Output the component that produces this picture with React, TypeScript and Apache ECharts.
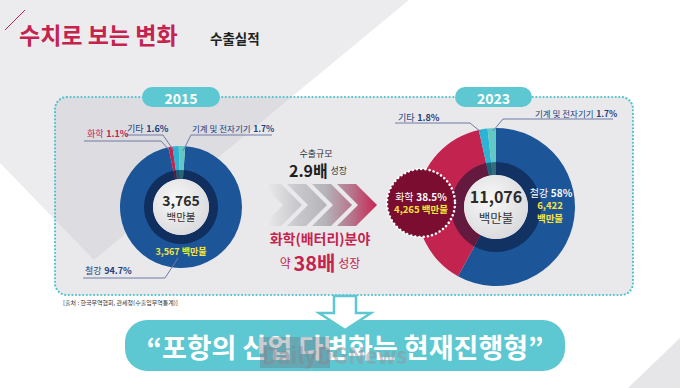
import React, { useEffect, useRef } from 'react';
import * as echarts from 'echarts';

const FONT = '"Noto Sans CJK KR", "Noto Sans", sans-serif';

// ---- data ----
const years = ['2015', '2023'];
const categories = ['철강', '화학', '기타', '기계 및 전자기기'];
const share2015 = [94.7, 1.1, 1.6, 1.7];
const share2023 = [58, 38.5, 1.8, 1.7];
const totals = ['3,765', '11,076'];
const steel2015Amount = '3,567';
const chem2023Amount = '4,265';
const steel2023Amount = '6,422';
const unit = '백만불';
const growthTotal = '2.9배';
const growthChem = '38배';
const sliceColors = ['#1d5599', '#c3234f', '#2bb4d3', '#62c8c6'];

const CRIMSON = '#c4234e';
const NAVY = '#22407c';
const YELLOW = '#f6e53a';
const CYAN = '#5ec8d2';
const LEADER = '#6c7aa6';

const pct = (v: number) => `${v}%`;

function piePart(center: number[], radius: number[], values: number[], startAngle: number) {
  return {
    type: 'pie',
    center,
    radius,
    startAngle,
    clockwise: true,
    silent: true,
    z: 2,
    label: { show: false },
    labelLine: { show: false },
    data: values.map((v, i) => ({ name: categories[i], value: v, itemStyle: { color: sliceColors[i] } })),
  };
}

function ring(center: number[], radius: number[], color: any, z: number) {
  return {
    type: 'pie',
    center,
    radius,
    silent: true,
    z,
    label: { show: false },
    labelLine: { show: false },
    data: [{ value: 1, itemStyle: { color } }],
  };
}

function txt(x: number, y: number, text: string, font: string, fill: string, align = 'left', extra: any = {}) {
  return {
    type: 'text',
    x,
    y,
    z: 30,
    silent: true,
    style: { text, font: `${font} ${FONT}`, fill, textAlign: align, textVerticalAlign: 'middle', ...extra },
  };
}

function rtxt(x: number, y: number, text: string, rich: any, align = 'left') {
  return {
    type: 'text',
    x,
    y,
    z: 30,
    silent: true,
    style: { text, rich, textAlign: align, textVerticalAlign: 'middle', fontFamily: FONT },
  };
}

const rs = (size: number, weight: string, fill: string) => ({ fontSize: size, fontWeight: weight, fill, fontFamily: FONT });

function leader(points: number[][]) {
  return { type: 'polyline', z: 25, silent: true, shape: { points }, style: { stroke: LEADER, lineWidth: 1, fill: null } };
}

function chevron(tip: number, mid: number, d: number, t: number, fill: any) {
  return {
    type: 'polygon',
    z: 5,
    silent: true,
    shape: {
      points: [
        [tip, mid],
        [tip - d, mid - d],
        [tip - d - t, mid - d],
        [tip - t, mid],
        [tip - d - t, mid + d],
        [tip - d, mid + d],
      ],
    },
    style: { fill },
  };
}

export default function App() {
  const ref = useRef<HTMLDivElement>(null);
  useEffect(() => {
    if (!ref.current) return;
    const chart = echarts.init(ref.current, undefined, { renderer: 'svg' });
    const c1 = [181, 207];
    const c2 = [496, 207];
    const innerFill = new echarts.graphic.RadialGradient(0.4, 0.38, 0.75, [
      { offset: 0, color: '#f8f8f8' },
      { offset: 1, color: '#d6d6da' },
    ]);
    const chevFill = new echarts.graphic.LinearGradient(262, 0, 378, 0, [
      { offset: 0, color: '#efeff1' },
      { offset: 0.3, color: '#c9c9cd' },
      { offset: 0.55, color: '#b5b3b8' },
      { offset: 0.78, color: '#b7738a' },
      { offset: 1, color: '#c8224f' },
    ], true);

    const elements: any[] = [
      // background shapes
      { type: 'polygon', z: -20, silent: true, shape: { points: [[0, 0], [409, 0], [94, 260], [0, 163]] }, style: { fill: '#ececee' } },
      { type: 'polygon', z: -20, silent: true, shape: { points: [[628, 388], [680, 338], [680, 388]] }, style: { fill: '#e6e6e8' } },
      // panel
      {
        type: 'rect', z: -10, silent: true,
        shape: { x: 55, y: 97, width: 578, height: 198, r: 12 },
        style: { fill: 'rgba(196,196,204,0.38)', stroke: '#4cc3cf', lineWidth: 2.2, lineDash: [0.01, 3.6], lineCap: 'round' },
      },
      // title
      { type: 'line', z: 10, silent: true, shape: { x1: 5, y1: 30, x2: 25, y2: 10 }, style: { stroke: CRIMSON, lineWidth: 1 } },
      txt(19, 34, '수치로 보는 변화', 'bold 23px', CRIMSON),
      txt(210, 38, '수출실적', 'bold 13.5px', '#222'),
      // year pills
      { type: 'rect', z: 12, silent: true, shape: { x: 142, y: 87, width: 78, height: 20, r: 10 }, style: { fill: CYAN } },
      txt(181, 97.5, years[0], 'bold 14px', '#fff', 'center'),
      { type: 'rect', z: 12, silent: true, shape: { x: 455, y: 87, width: 77, height: 20, r: 10 }, style: { fill: CYAN } },
      txt(493.5, 97.5, years[1], 'bold 14px', '#fff', 'center'),

      // 2015 labels
      rtxt(87, 133, `{a|${categories[1]}} {b|${pct(share2015[1])}}`, { a: rs(9, 'normal', CRIMSON), b: rs(9, 'bold', CRIMSON) }),
      rtxt(127, 128, `{a|${categories[2]}} {b|${pct(share2015[2])}}`, { a: rs(9, 'normal', NAVY), b: rs(9, 'bold', NAVY) }),
      rtxt(192, 128, `{a|${categories[3]}} {b|${pct(share2015[3])}}`, { a: rs(8.5, 'normal', NAVY), b: rs(8.5, 'bold', NAVY) }),
      rtxt(85, 270, `{a|${categories[0]}} {b|${pct(share2015[0])}}`, { a: rs(9, 'normal', NAVY), b: rs(9, 'bold', NAVY) }),
      leader([[84, 141], [161, 141], [170, 151]]),
      leader([[125, 135], [163, 135], [174, 151]]),
      leader([[272, 135], [191, 135], [183, 151]]),
      leader([[83, 278], [165, 278], [178, 258]]),
      txt(c1[0], 199.5, totals[0], 'bold 14px', '#2b2b2b', 'center'),
      txt(c1[0], 216, unit, 'normal 10.5px', '#333', 'center'),
      txt(c1[0], 251, `${steel2015Amount} ${unit}`, 'bold 9px', YELLOW, 'center'),

      // middle
      txt(316, 153, '수출규모', 'normal 9px', '#333', 'center'),
      rtxt(318, 170, `{b|${growthTotal}} {s|성장}`, { b: rs(16, 'bold', '#1f1f1f'), s: rs(9, 'normal', '#333') }, 'center'),
      chevron(302, 205, 21, 19, chevFill),
      chevron(327, 205, 21, 19, chevFill),
      chevron(352, 205, 21, 19, chevFill),
      chevron(377, 205, 21, 19, chevFill),
      txt(320, 238, '화학(배터리)분야', 'bold 14px', CRIMSON, 'center'),
      rtxt(320, 262, `{s|약} {b|${growthChem}} {s|성장}`, { s: rs(12, 'normal', CRIMSON), b: rs(20, 'bold', CRIMSON) }, 'center'),

      // 2023 labels
      rtxt(398, 117, `{a|${categories[2]}} {b|${pct(share2023[2])}}`, { a: rs(9, 'normal', NAVY), b: rs(9, 'bold', NAVY) }),
      rtxt(535, 113, `{a|${categories[3]}} {b|${pct(share2023[3])}}`, { a: rs(8.5, 'normal', NAVY), b: rs(8.5, 'bold', NAVY) }),
      leader([[395, 123], [470, 123], [481, 132]]),
      leader([[613, 119], [503, 119], [493, 131]]),
      txt(c2[0], 196, totals[1], 'bold 16px', '#2b2b2b', 'center'),
      txt(c2[0], 217.5, unit, 'normal 12.5px', '#333', 'center'),
      rtxt(551, 192, `{a|${categories[0]}} {b|${pct(share2023[0])}}`, { a: rs(10, 'normal', '#fff'), b: rs(10, 'bold', '#fff') }, 'center'),
      txt(550, 204.5, steel2023Amount, 'bold 9.5px', YELLOW, 'center'),
      txt(550, 217.5, unit, 'bold 9.5px', YELLOW, 'center'),
      {
        type: 'circle', z: 20, silent: true,
        shape: { cx: 421, cy: 203, r: 34 },
        style: { fill: '#7a0d30', stroke: '#ffffff', lineWidth: 2.6, lineDash: [0.01, 4.2], lineCap: 'round' },
      },
      rtxt(421, 196, `{a|${categories[1]}} {b|${pct(share2023[1])}}`, { a: rs(10, 'normal', '#fff'), b: rs(10, 'bold', '#fff') }, 'center'),
      txt(421, 209, `${chem2023Amount} ${unit}`, 'bold 9.5px', YELLOW, 'center'),

      // source
      txt(63, 302, '[출처 : 한국무역협회, 관세청(수출입무역통계)]', 'normal 6px', '#333'),

      // banner
      { type: 'rect', z: 10, silent: true, shape: { x: 125, y: 320, width: 440, height: 51, r: 22 }, style: { fill: CYAN } },
      txt(345, 346, '“포항의 산업 다변화는 현재진행형”', 'bold 27px', '#fff', 'center'),
      { type: 'rect', z: 31, silent: true, shape: { x: 260, y: 337, width: 70, height: 31 }, style: { fill: 'rgba(110,110,120,0.35)' } },
      txt(262, 354, 'DailyDGNews', 'bold 22px', 'rgba(150,150,160,0.55)', 'left', { z: 32 }),
      // arrow
      {
        type: 'polygon', z: 15, silent: true,
        shape: { points: [[334, 296], [356, 296], [356, 313], [371, 313], [345, 330], [319, 313], [334, 313]] },
        style: { fill: '#ffffff', stroke: CYAN, lineWidth: 2.5, lineJoin: 'miter' },
      },
    ];

    chart.setOption({
      animation: false,
      backgroundColor: '#ffffff',
      series: [
        piePart(c1, [28, 61], share2015, 86),
        ring(c1, [28, 37], 'rgba(5,15,45,0.55)', 3),
        ring(c1, [0, 28], innerFill, 4),
        piePart(c2, [32, 79], share2023, 90),
        ring(c2, [32, 45], 'rgba(5,15,45,0.5)', 3),
        ring(c2, [0, 32], innerFill, 4),
      ],
      graphic: { elements },
    });
    return () => chart.dispose();
  }, []);
  return <div ref={ref} style={{ position: 'fixed', left: 0, top: 0, width: 680, height: 388 }} />;
}
